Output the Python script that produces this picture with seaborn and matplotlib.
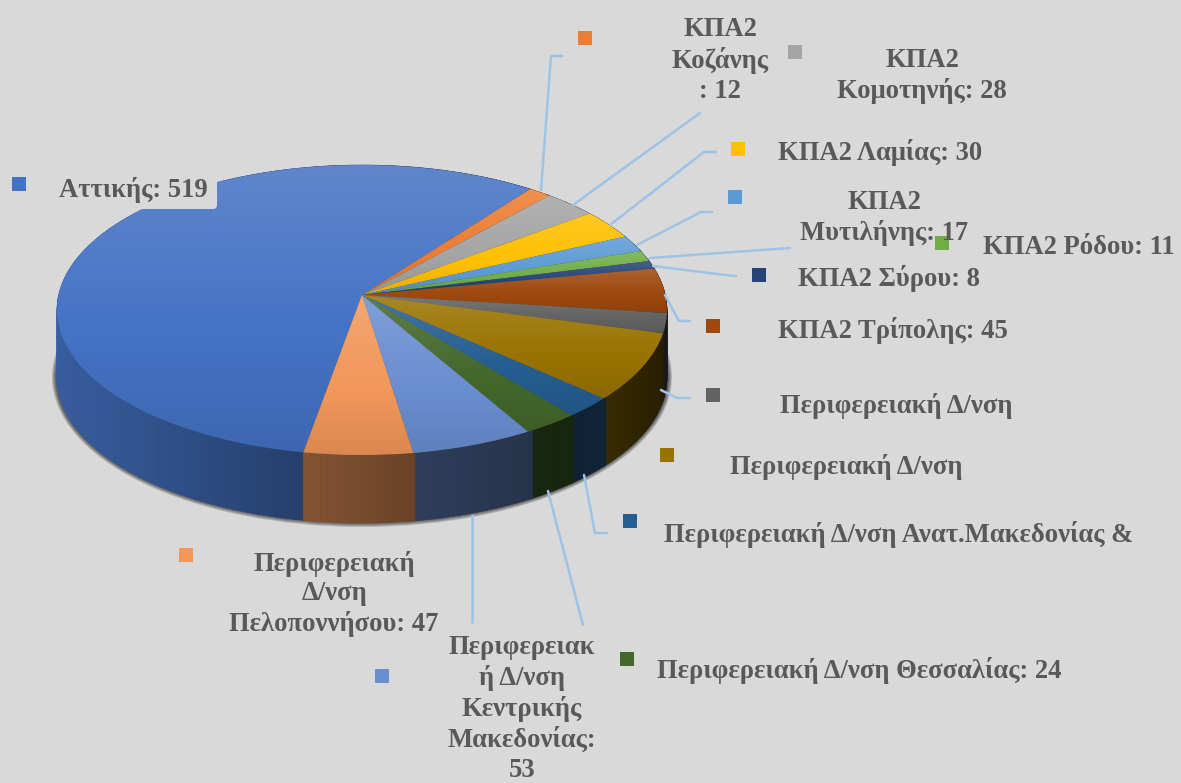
import numpy as np
import matplotlib
matplotlib.use("Agg")
import matplotlib.pyplot as plt
import seaborn as sns
from matplotlib.collections import PolyCollection
from matplotlib.patches import Ellipse, FancyBboxPatch
from matplotlib.transforms import Transform

# ---------- data ----------
names = ["Αττικής", "ΚΠΑ2 Κοζάνης", "ΚΠΑ2 Κομοτηνής", "ΚΠΑ2 Λαμίας", "ΚΠΑ2 Μυτιλήνης",
         "ΚΠΑ2 Ρόδου", "ΚΠΑ2 Σύρου", "ΚΠΑ2 Τρίπολης", "Περιφερειακή Δ/νση (γκρι)",
         "Περιφερειακή Δ/νση (χρυσό)", "Περιφερειακή Δ/νση Ανατ.Μακεδονίας &",
         "Περιφερειακή Δ/νση Θεσσαλίας", "Περιφερειακή Δ/νση Κεντρικής Μακεδονίας",
         "Περιφερειακή Δ/νση Πελοποννήσου"]
values = [519, 12, 28, 30, 17, 11, 8, 45, 20, 68, 21, 24, 53, 47]
colors = ["#4472C4", "#ED7D31", "#A5A5A5", "#FFC000", "#5B9BD5", "#70AD47", "#264478",
          "#9E480E", "#636363", "#997300", "#255E91", "#43682B", "#698ED0", "#F1975A"]
label_texts = ["Αττικής: 519", "ΚΠΑ2\nΚοζάνης\n: 12", "ΚΠΑ2\nΚομοτηνής: 28", "ΚΠΑ2 Λαμίας: 30",
               "ΚΠΑ2\nΜυτιλήνης: 17", "ΚΠΑ2 Ρόδου: 11", "ΚΠΑ2 Σύρου: 8", "ΚΠΑ2 Τρίπολης: 45",
               "Περιφερειακή Δ/νση", "Περιφερειακή Δ/νση", "Περιφερειακή Δ/νση Ανατ.Μακεδονίας &",
               "Περιφερειακή Δ/νση Θεσσαλίας: 24", "Περιφερειακ\nή Δ/νση\nΚεντρικής\nΜακεδονίας:\n53",
               "Περιφερειακή\nΔ/νση\nΠελοποννήσου: 47"]

# ---------- layout (pixels) ----------
W, H = 1181, 783
CX, CY, RX, RY = 362, 310, 305, 145
DEPTH = 68 / RY
TILT = 15 / RY
BG = "#d9d9d9"
TXT = "#595959"
LEAD = "#9dc3e6"
label_pos = [(133, 190), (720, 60), (922, 76), (880, 152), (884, 218), (1079, 248), (889, 279),
             (893, 331), (896, 406), (846, 467), (899, 534), (859, 671), (522, 709), (334, 594)]
square_pos = [(19, 184), (585, 38), (795, 52), (738, 149), (735, 197), (942, 243), (759, 275),
              (713, 326), (713, 395), (667, 455), (630, 521), (627, 659), (382, 676), (186, 555)]
leaders = [[(541, 190), (551, 56), (562, 56)],
           [(573, 205), (700, 113)],
           [(610, 225), (704, 152), (716, 152)],
           [(637, 245), (701, 212), (712, 212)],
           [(650, 258), (790, 248)],
           [(653, 266), (725, 275), (736, 276)],
           [(665, 295), (679, 321), (690, 321)],
           [(661, 390), (677, 398), (690, 398)],
           [(584, 475), (595, 533), (607, 533)],
           [(548, 491), (583, 625)],
           [(472, 515), (472, 622)]]

sns.set_theme(style="white")
plt.rcParams["font.family"] = ["Liberation Serif", "DejaVu Serif"]
palette = sns.color_palette(colors)


class DiskPerspective(Transform):
    """Tilts the unit disk so its centre sits above the centre of the drawn ellipse."""
    input_dims = 2
    output_dims = 2
    is_separable = False
    has_inverse = False

    def transform_non_affine(self, xy):
        xy = np.asarray(xy, dtype=float)
        d = 1 + TILT * xy[:, 1]
        return np.column_stack([xy[:, 0] * np.sqrt(1 - TILT ** 2) / d, (xy[:, 1] + TILT) / d])


persp = DiskPerspective()

fig = plt.figure(figsize=(W / 100, H / 100), dpi=100, facecolor=BG)
ax = fig.add_axes([0, 0, 1, 1])
ax.set_facecolor(BG)

wedges, _ = ax.pie(values, colors=palette, startangle=90 - 190.0, counterclock=False,
                   radius=1, wedgeprops={"linewidth": 0, "edgecolor": "none", "zorder": 5})
ax.set_aspect("auto")

# soft shadow below the pie
for i in range(5):
    grow = 5 - i
    ax.add_patch(Ellipse((0.0, -DEPTH + 1 / RY), 2 * (RX + grow) / RX, 2 * (RY + grow) / RY,
                         facecolor="black", edgecolor="none", alpha=0.17, zorder=1))

# side wall, shaded from left to right
polys, facecols = [], []
for w, col in zip(wedges, palette):
    a = np.radians(np.arange(w.theta1, w.theta2 + 1.0, 1.0))
    a = np.append(a, np.radians(w.theta2))
    pts = persp.transform_non_affine(np.column_stack([np.cos(a), np.sin(a)]))
    for p, q in zip(pts[:-1], pts[1:]):
        polys.append([p, q, q - [0, DEPTH], p - [0, DEPTH]])
        f = np.interp((p[0] + q[0]) / 2, [-1, -0.19, 0.17, 0.55, 0.8, 1], [0.82, 0.55, 0.44, 0.36, 0.37, 0.25])
        facecols.append(tuple(np.array(col) * f))
ax.add_collection(PolyCollection(polys, facecolors=facecols, edgecolors=facecols, linewidths=0.4, zorder=2))

# top surface
grad = np.zeros((256, 1, 4))
g = np.linspace(0, 1, 256)
grad[:, 0, :3] = (g < 0.6)[:, None]
grad[:, 0, 3] = np.where(g < 0.6, 0.15 * (1 - g / 0.6), 0.10 * (g - 0.6) / 0.4)
for w in wedges:
    w.set_transform(persp + ax.transData)
    verts = persp.transform_non_affine(w.get_path().vertices)
    im = ax.imshow(grad, extent=(-1.1, 1.1, verts[:, 1].min(), verts[:, 1].max()),
                   aspect="auto", origin="upper", zorder=6, interpolation="bilinear")
    im.set_clip_path(w)

ax.set_xlim((0 - CX) / RX, (W - CX) / RX)
ax.set_ylim((CY - H) / RY, CY / RY)
ax.axis("off")

# overlay in pixel coordinates: leaders, squares, labels
ov = fig.add_axes([0, 0, 1, 1])
ov.set_xlim(0, W)
ov.set_ylim(H, 0)
ov.axis("off")
ov.patch.set_alpha(0)

for line in leaders:
    xs, ys = zip(*line)
    ov.plot(xs, ys, color=LEAD, lw=1.8, solid_capstyle="round", zorder=2)

ov.add_patch(FancyBboxPatch((62, 165), 151, 40, boxstyle="round,pad=4,rounding_size=4",
                            facecolor=BG, edgecolor="none", zorder=3))

for (sx, sy), col in zip(square_pos, palette):
    ov.scatter([sx], [sy], marker="s", s=95, color=[col], linewidths=0, zorder=4)

for (tx, ty), t in zip(label_pos, label_texts):
    ov.text(tx, ty, t, ha="center", va="center", fontsize=19.2, fontweight="bold", color=TXT,
            linespacing=1.25, zorder=5)

fig.savefig("out.png", dpi=100, facecolor=BG)
